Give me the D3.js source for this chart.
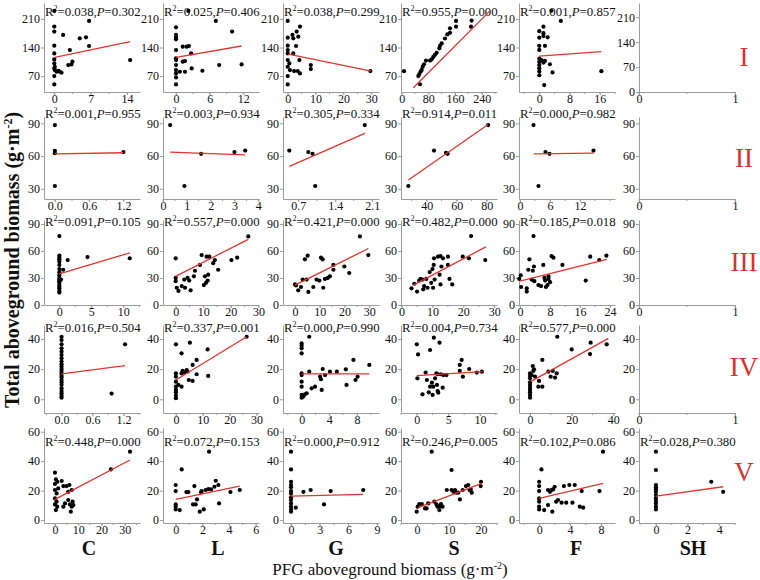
<!DOCTYPE html>
<html><head><meta charset="utf-8">
<script src="https://cdn.jsdelivr.net/npm/d3@7"></script>
<style>body{margin:0;background:#fff}</style>
</head><body><svg id="c" width="760" height="580"></svg>
<script>
// ---------------- DATA ----------------
const rowNames = ["I","II","III","IV","V"];
const groupNames = ["C","L","G","S","F","SH"];

const r2_I   = ["0.038","0.025","0.038","0.955","0.001",null];
const p_I    = ["0.302","0.406","0.299","0.000","0.857",null];
const r2_II  = ["0.001","0.003","0.305","0.914","0.000",null];
const p_II   = ["0.955","0.934","0.334","0.011","0.982",null];
const r2_III = ["0.091","0.557","0.421","0.482","0.185",null];
const p_III  = ["0.105","0.000","0.000","0.000","0.018",null];
const r2_IV  = ["0.016","0.337","0.000","0.004","0.577",null];
const p_IV   = ["0.504","0.001","0.990","0.734","0.000",null];
const r2_V   = ["0.448","0.072","0.000","0.246","0.102","0.028"];
const p_V    = ["0.000","0.153","0.912","0.005","0.086","0.380"];

const xTicks_I   = [[0,7,14],[0,6,12],[0,10,20,30],[0,80,160,240],[0,8,16],[0,1]];
const xTicks_II  = [[0.0,0.6,1.2],[0,1,2,3,4],[0.7,1.4,2.1],[40,60,80],[0,6,12],[0,1]];
const xTicks_III = [[0,5,10],[0,10,20,30],[0,10,20,30],[0,10,20,30],[0,8,16,24],[0,1]];
const xTicks_IV  = [[0.0,0.6,1.2],[0,10,20,30],[0,4,8],[0,5,10],[0,20,40],[0,1]];
const xTicks_V   = [[0,10,20,30],[0,2,4,6],[0,3,6,9],[0,10,20],[0,4,8],[0,2,4]];
const xDecimals  = [[0,0,0,0,0,0],[1,0,1,0,0,0],[0,0,0,0,0,0],[1,0,0,0,0,0],[0,0,0,0,0,0]];

const yTicks_I = [70,140,210];
const yTicks_I_SH = [0,70,140,210];
const yTicks_II = [30,60,90];
const yTicks_III = [0,30,60,90];
const yTicks_IV = [0,20,40];
const yTicks_V = [0,20,40,60];

// points [PFG biomass, total biomass]
const pts_I_C = [[0,229.7],[0,191.2],[0,178.9],[0,144.5],[0,125.6],[0,110.9],[0,101.1],[0.1,92.9],[0,88.8],[0.1,84.7],[0.45,80.6],[0,70],[0,49.5],[1.7,170.7],[1.1,80.6],[1.4,78.1],[0.8,83],[3,133.8],[2.7,97],[3.3,98.6],[3.5,105.2],[4.9,162.5],[6.1,165],[6.7,205.1],[6.7,143.7],[14.6,109.3]];
const pts_I_L = [[0,189.5],[0,170.7],[0,164.1],[0,160],[0,133.8],[0,113.4],[0,109.3],[0,97],[0,84.7],[0,76.5],[0,66.7],[0,49.5],[0.7,80.6],[1.2,105.2],[1.6,106.8],[1.6,80.6],[1.2,142],[1.9,142],[2.3,143.7],[2.7,125.6],[2.8,88.8],[2.2,229.7],[4.7,83.1],[7.1,205.1],[7.7,97],[10,178.9],[11.7,98.6]];
const pts_I_G = [[0,205.1],[0,164.1],[0,144.5],[0,133.8],[0,125.6],[0,109.3],[0.6,101.1],[0,92.9],[0.8,84.7],[0,70],[0,49.5],[1.7,170.7],[2,162.5],[3.2,178.9],[3.8,166.6],[4.4,191.2],[3,143.7],[2.3,82.2],[3.6,82.2],[4.4,76.5],[4.2,109.3],[2,125.6],[8.3,97],[8.3,87.2],[29.7,82.2]];
const pts_I_S = [[7,82],[55,50],[50,70],[53,75],[57,81],[60,85],[63,93],[67,99],[73,108],[85,108],[90,111],[95,117],[100,122],[105,127],[113,138],[115,144],[120,150],[130,162],[137,172],[145,176],[145,187],[163,191],[163,205],[208,191],[210,206]];
const pts_I_F = [[0,180],[0,164],[0,144],[0,134],[0,113],[0,105],[0,97],[0,89],[0,81],[0,72],[1.1,191],[1.1,175],[1.1,168],[1.5,144],[0.6,109],[1.1,103],[1.5,107],[1.3,48],[2.2,165],[2.8,99],[3.5,79],[5.7,205],[3.2,230],[16.4,82]];
const pts_I_SH = [];

const pts_II_C = [[0,88.4],[0,64.8],[0,62.6],[0,32.5],[1.2,63.6]];
const pts_II_L = [[0.3,88.4],[0.9,32.5],[1.6,62],[3.0,63.6],[3.45,65]];
const pts_II_G = [[0.53,65],[0.89,63.6],[0.97,62],[1.02,32.5],[1.96,88.4]];
const pts_II_S = [[27.8,32.5],[44.9,65],[52.9,63],[54,62],[81,88.4]];
const pts_II_F = [[2.7,88.4],[3.7,32.5],[5.1,63.6],[5.9,62],[14.7,65]];
const pts_II_SH = [];

const pts_III_C = [[0,76.6],[0,54.8],[0,52.6],[0,50.8],[0,48.3],[0,44.6],[0,39.9],[0,36.3],[0,33],[0,30.1],[0,28.3],[0,26.5],[0,24.7],[0,22.1],[0,20.3],[0,18.5],[0,15.6],[0,13.8],[0.26,28.3],[0.6,39.2],[1.3,50],[4.4,53.3],[11,51.9]];
const pts_III_L = [[0,51.9],[0,30.1],[0,26.5],[0.4,19.2],[1,15.6],[2.2,21],[3.1,28.3],[3.4,19.2],[4.3,30.1],[4.9,27.2],[5.4,16.3],[6.6,31.9],[7,38.1],[8.8,44.6],[9.4,55.5],[10.2,22.1],[10.6,31.9],[11.2,53.7],[12.2,53.7],[11.6,27.2],[11,24.7],[11.8,33.7],[13.6,46.5],[14.2,50],[15.4,39.2],[20.2,50],[22.3,52.6],[26.3,76.2]];
const pts_III_G = [[0,22.9],[0.4,21.8],[1.3,16.3],[2.4,20],[3.1,28.3],[4,50.8],[5.1,54.8],[4.7,28.3],[5.4,14.5],[7.4,20],[8.7,28.3],[9.8,27.2],[10.5,52.6],[11.2,50.8],[11.4,19.2],[12.1,29],[13.2,30.1],[14.1,31.9],[15.5,39.2],[15.5,44.6],[19.9,42.8],[21.9,35.6],[26.2,76.2],[29.6,55.5]];
const pts_III_S = [[3.2,18.5],[4.1,23.6],[5,14.9],[5.7,27.2],[6.1,29],[6.8,28.3],[7,17.4],[7.3,21],[8,29],[8.4,19.2],[9.1,36.6],[9.6,24.7],[10,39.9],[10.2,19.2],[10.4,44.6],[10.5,51.9],[10.7,28.3],[11.8,53.7],[12.3,33.7],[12.6,54.4],[12.9,42.8],[12.6,22.9],[13.4,51.9],[15,53.7],[15,44.6],[15.5,29],[16.4,22.9],[19.8,53.7],[21.8,51.9],[22.5,76.6],[27.1,50]];
const pts_III_F = [[-0.2,29],[0.2,33],[0.3,20],[1.8,18.5],[1.8,14.9],[2.2,39.2],[2.5,50.8],[3.1,28.3],[3.4,38.1],[3.6,76.6],[3.7,42.8],[3.8,26.5],[4.9,22.1],[5.6,21],[6.2,44.6],[6.5,30.1],[6.7,27.2],[6.9,20],[7.3,22.1],[7.6,29],[7.6,31.9],[8,25.4],[8.4,54.4],[8.9,52.6],[11.3,44.6],[17.5,27.2],[18.7,53.7],[21.1,50],[23,54.8]];
const pts_III_SH = [];

const pts_IV_C = [[0,41.5],[0,39.3],[0,36.5],[0,33.8],[0,31.6],[0,29.4],[0,27.2],[0,25],[0,23.2],[0,21.7],[0,20.1],[0,18.8],[0,17.2],[0,15.7],[0,14.4],[0,12.8],[0,11.3],[0,9.5],[0,7.3],[0,5.5],[0,4],[0,2.4],[0,1.1],[0.97,3.8],[1.23,36.5]];
const pts_IV_L = [[0,36.5],[0,17.2],[0,15],[0,11.7],[0,8.4],[0,6.2],[0,4.6],[0,2.4],[0,0.7],[0.9,9.5],[2.1,8.4],[2.1,17.2],[2.5,18.8],[2.1,30.5],[3.1,17.7],[4,19.4],[4.3,18.3],[4.8,12.8],[5.2,37.6],[6.2,12.2],[6.2,22.8],[7.7,16.6],[7.7,26.1],[11.8,33.1],[12,15.5],[26.3,41.5]];
const pts_IV_G = [[0,37.1],[0,35.6],[0,33.8],[0,30.5],[0,17.2],[0,16.1],[0,11.7],[0,8.4],[0,2.9],[0,1.1],[0.24,1.8],[0.48,3.3],[0.73,4],[1.1,41.5],[1.1,18.3],[1.45,7.3],[1.94,8.4],[2.67,15],[2.8,13.3],[3.05,20.1],[2.9,6.2],[3.4,16.1],[4.1,18.3],[5.1,18.3],[6.4,19.9],[6.5,9.5],[7.5,26.1],[7.8,12.8],[8.1,15],[9.8,22.8]];
const pts_IV_S = [[0,36.5],[0.2,29.8],[0.1,13.9],[0.9,3.3],[1.4,17.7],[1.6,12.8],[1.9,4.6],[2.1,32.7],[2.1,8.4],[2.4,11],[2.5,2.9],[2.6,8.4],[2.7,40.9],[2.9,13.9],[3.1,17.2],[3.2,9.5],[3.3,16.6],[3.3,5.5],[3.4,4.4],[3.6,37.6],[3.8,16.6],[4.1,7.7],[4.2,16.1],[4.7,16.1],[6.8,18.8],[6.8,22.8],[7.1,26.1],[7.3,15],[8.3,20.1],[9.5,17.7],[10.3,18.3]];
const pts_IV_F = [[0,17.2],[0,15.5],[0,13.9],[0,11.3],[0,9.5],[0,7.7],[0,6.2],[0,4.6],[0,2.9],[0,1.1],[0.8,16.1],[1.3,22.1],[1.6,18.8],[1.9,19.9],[2.4,15],[4,8.4],[4.3,12.2],[5.9,8.4],[5.9,26.1],[8.8,18.3],[9.9,15],[10.9,18.8],[12,14.4],[12.8,17.2],[13.1,41.5],[20,33.1],[28.8,30],[29.1,37.6],[36.8,36.5]];
const pts_IV_SH = [];

const pts_V_C = [[0,32.2],[0.4,27.6],[1,26],[0,24.5],[1.4,21.5],[0,20.4],[0.7,18.1],[0,14.7],[0.7,12.5],[0,10.6],[1,9.1],[0.4,6.8],[2.9,26.5],[3.6,23.1],[5,23.1],[6.2,23.8],[7.2,20.4],[5.7,19.2],[4.3,11.3],[3.6,9.1],[5.7,13.6],[6.4,10.6],[7.2,9.1],[6.8,5.7],[7.6,12.5],[7.9,10.2],[24,34.4],[32.2,46.4]];
const pts_V_L = [[0,23.8],[0,19.7],[0,10.6],[0,9.1],[0,7.2],[0.3,6.8],[0.45,34.4],[0.8,19],[0.95,19],[1.3,10.6],[1.4,23.1],[1.5,10.6],[1.6,14],[1.8,5.7],[1.9,18.9],[1.95,19.7],[2.1,7.2],[2.25,20.4],[2.45,21],[2.5,46.4],[2.65,20.8],[2.9,22.6],[3,26.7],[3.2,23.8],[3.25,11.3],[4.1,19],[4.8,20.4]];
const pts_V_G = [[0,46.4],[0,34.4],[0,26],[0,23.8],[0,22.2],[0,19.7],[0,18.1],[0,15.4],[0,13.6],[0,11.3],[0,9.1],[0,7.2],[0,5.7],[0.5,8.4],[1.3,19.2],[2.05,20.4],[3.45,10.6],[4.15,19.7],[7.55,20.4]];
const pts_V_S = [[-0.1,5.7],[0.2,9.1],[0.7,10.9],[1.5,10.9],[2.5,7.9],[3,7.9],[3.5,11.3],[4.6,46.4],[5.4,12.5],[6.1,10.6],[6.4,9.1],[7,6.8],[7.2,9.5],[7.5,10.9],[8,9.1],[9.3,20.4],[10.8,34],[10.8,20.4],[11.4,19.2],[11.9,20.4],[12.2,18.6],[12.9,18.6],[13.4,14],[14.3,20.4],[15.3,23.1],[16,23.8],[16.4,20.4],[16.8,20.8],[17.1,18.6],[19.9,23.1],[20,26]];
const pts_V_F = [[0,26],[0,23.1],[0,19.7],[0,14.7],[0,12.5],[0,9.1],[0,7.2],[0.3,34.4],[0.65,6.8],[1.15,10.2],[1.15,20.4],[1.4,19.2],[1.6,20.4],[1.8,20.8],[1.7,5.7],[2,22.6],[2.2,12.5],[2.45,13.6],[2.9,11.8],[3.2,23.1],[3.5,11.8],[3.9,23.8],[4.3,11.8],[4.6,23.8],[5.5,19.7],[5.25,9.1],[5.7,8.4],[7.8,19.7],[8.25,46.4]];
const pts_V_SH = [[0,46.4],[0,34],[0,23.8],[0,22.2],[0,20.8],[0,19.2],[0,17],[0,14.7],[0,12.9],[0,11.3],[0,9.1],[0,7.2],[3.5,26],[4.25,19.2]];

// fitted lines [x0, y0, x1, y1]
const fit_I   = [[0.1,115.8,14.6,154.3],[0,115.8,11.7,143.7],[0.2,124,30,82.2],[35,41.3,265,229.7],[0,119,16.4,130],null];
const fit_II  = [[0,62,1.2,63],[0.3,63.6,3.45,61],[0.53,50.5,1.96,80.7],[27.8,38,81,89],[2.8,62,14.7,62.6],null];
const fit_III = [[0,34.5,11,58],[0,31.9,26.3,73],[0,22.1,29.6,62.8],[3.8,22.1,27.3,64.6],[0,26.5,23.1,50.8],null];
const fit_IV  = [[0,16.8,1.23,22.3],[0,12.8,26.3,41.5],[0,16.8,9.8,16.8],[0,15.7,10.4,18.3],[0.3,11.7,37.6,40.4],null];
const fit_V   = [[0,14,32.2,40.8],[0,14,4.8,23.1],[0,16.3,7.55,17.4],[0.4,8.4,20.2,24.9],[0,14.7,8.25,24.9],[0,16.3,4.25,22.6]];

// ---------------- LAYOUT ----------------
const r2All = [r2_I, r2_II, r2_III, r2_IV, r2_V];
const pAll = [p_I, p_II, p_III, p_IV, p_V];
const xTicksAll = [xTicks_I, xTicks_II, xTicks_III, xTicks_IV, xTicks_V];
const yTicksAll = [yTicks_I, yTicks_II, yTicks_III, yTicks_IV, yTicks_V];
const ptsAll = [
  [pts_I_C, pts_I_L, pts_I_G, pts_I_S, pts_I_F, pts_I_SH],
  [pts_II_C, pts_II_L, pts_II_G, pts_II_S, pts_II_F, pts_II_SH],
  [pts_III_C, pts_III_L, pts_III_G, pts_III_S, pts_III_F, pts_III_SH],
  [pts_IV_C, pts_IV_L, pts_IV_G, pts_IV_S, pts_IV_F, pts_IV_SH],
  [pts_V_C, pts_V_L, pts_V_G, pts_V_S, pts_V_F, pts_V_SH]];
const fitAll = [fit_I, fit_II, fit_III, fit_IV, fit_V];

const serif = "'Liberation Serif','Times New Roman',serif";
const colLeft = [44,163,283,401,519,639], colW = 96;
const rowTop = [3,117,220,325,428], rowBot = [92,199,305,413,523];
const labelBase = [16,118,226,332,446];
const romanBase = [66,167,271,376,481];
const xDomains = [
 [[-1.98,16.5],[-2.32,14.8],[-1.7,32.8],[-2,286],[-5.36,20],[0,1]],
 [[-0.19,1.49],[0,4.03],[0.41,2.23],[22.9,86.9],[-0.2,19],[0,1]],
 [[-2.4,12.6],[-4.6,30.2],[-4.84,33.9],[-0.2,30.9],[-0.27,25.3],[0,1]],
 [[-0.34,1.52],[-4.8,30.9],[-2.7,11.2],[-2.5,12.7],[-5.3,40.8],[0,1]],
 [[-4.7,36.5],[-0.95,6.24],[-0.84,9.2],[-5,25],[-2.6,9.8],[-1.07,5]]];
const yDomains = [[31,249],[20.6,95.8],[0,94.5],[-9.1,49.3],[-2,62.5]];
const yDomainSH_I = [0,250];

const svg = d3.select("#c");
const axisColor = "#9c9c9c";

function styleAxis(sel){
  sel.select(".domain").attr("stroke", axisColor).attr("stroke-width",1);
  sel.selectAll(".tick line").attr("stroke", axisColor);
  sel.selectAll(".tick text").attr("font-family", serif).attr("font-size", 12).attr("fill","#111");
}

for (let r = 0; r < 5; r++) {
  for (let c = 0; c < 6; c++) {
    const x = d3.scaleLinear().domain(xDomains[r][c]).range([colLeft[c], colLeft[c] + colW]);
    const yd = (r === 0 && c === 5) ? yDomainSH_I : yDomains[r];
    const y = d3.scaleLinear().domain(yd).range([rowBot[r], rowTop[r]]);
    const yt = (r === 0 && c === 5) ? yTicks_I_SH : yTicksAll[r];
    const g = svg.append("g");
    const dec = xDecimals[r][c];
    const xt = xTicksAll[r][c];
    const xa = d3.axisBottom(x).tickValues(xt).tickSize(3).tickSizeOuter(0).tickPadding(-0.5)
      .tickFormat(d => d.toFixed(dec));
    const gx = g.append("g").attr("transform", `translate(0,${rowBot[r]})`).call(xa);
    styleAxis(gx);
    // minor ticks at half steps
    const step = (xt[1] - xt[0]) / 2;
    const d0 = xDomains[r][c][0], d1 = xDomains[r][c][1];
    const minors = [];
    for (let v = Math.ceil(d0 / step) * step; v <= d1 + 1e-9; v += step) minors.push(v);
    gx.selectAll("line.minor").data(minors).enter().append("line").attr("class","minor")
      .attr("x1", d => x(d)).attr("x2", d => x(d)).attr("y1", 0).attr("y2", 2)
      .attr("stroke", axisColor);
    const ya = d3.axisLeft(y).tickValues(yt).tickSize(3).tickSizeOuter(0).tickPadding(1);
    const gy = g.append("g").attr("transform", `translate(${colLeft[c]},0)`).call(ya);
    styleAxis(gy);

    // stats label
    const r2 = r2All[r][c];
    if (r2 !== null) {
      const t = g.append("text").attr("x", colLeft[c] + 1).attr("y", labelBase[r])
        .attr("font-family", serif).attr("font-size", 12.8).attr("fill", "#111");
      t.append("tspan").text("R");
      t.append("tspan").attr("font-size", 8).attr("dy", -5.2).text("2");
      t.append("tspan").attr("dy", 5.2).text("=" + r2 + ",");
      t.append("tspan").attr("font-style", "italic").text("P");
      t.append("tspan").text("=" + pAll[r][c]);
    }
    // points
    g.selectAll("circle").data(ptsAll[r][c]).enter().append("circle")
      .attr("cx", d => x(d[0])).attr("cy", d => y(d[1])).attr("r", 2.1).attr("fill", "#000");
    // fit line
    const f = fitAll[r][c];
    if (f) {
      g.append("line").attr("x1", x(f[0])).attr("y1", y(f[1])).attr("x2", x(f[2])).attr("y2", y(f[3]))
        .attr("stroke", "#e0342f").attr("stroke-width", 1.3);
    }
  }
  svg.append("text").attr("x", 744).attr("y", romanBase[r]).attr("text-anchor", "middle")
    .attr("font-family", serif).attr("font-size", 27).attr("fill", "#d8322e").text(rowNames[r]);
}

// group letters
const letterX = [89, 218, 336, 454, 576, 693];
groupNames.forEach((n, i) => {
  svg.append("text").attr("x", letterX[i]).attr("y", 555).attr("text-anchor", "middle")
    .attr("font-family", serif).attr("font-weight", "bold").attr("font-size", 20).attr("fill","#111").text(n);
});

// x title
const xt = svg.append("text").attr("x", 390).attr("y", 575).attr("text-anchor", "middle")
  .attr("font-family", serif).attr("font-size", 17).attr("fill","#111");
xt.append("tspan").text("PFG aboveground biomass (g·m");
xt.append("tspan").attr("font-size", 10).attr("dy", -6).text("-2");
xt.append("tspan").attr("dy", 6).text(")");

// y title
const yt = svg.append("text").attr("transform", "translate(19,260) rotate(-90)").attr("text-anchor", "middle")
  .attr("font-family", serif).attr("font-weight", "bold").attr("font-size", 20).attr("fill","#111");
yt.append("tspan").text("Total aboveground biomass (g·m");
yt.append("tspan").attr("font-size", 12).attr("dy", -7).text("-2");
yt.append("tspan").attr("dy", 7).text(")");
</script></body></html>
